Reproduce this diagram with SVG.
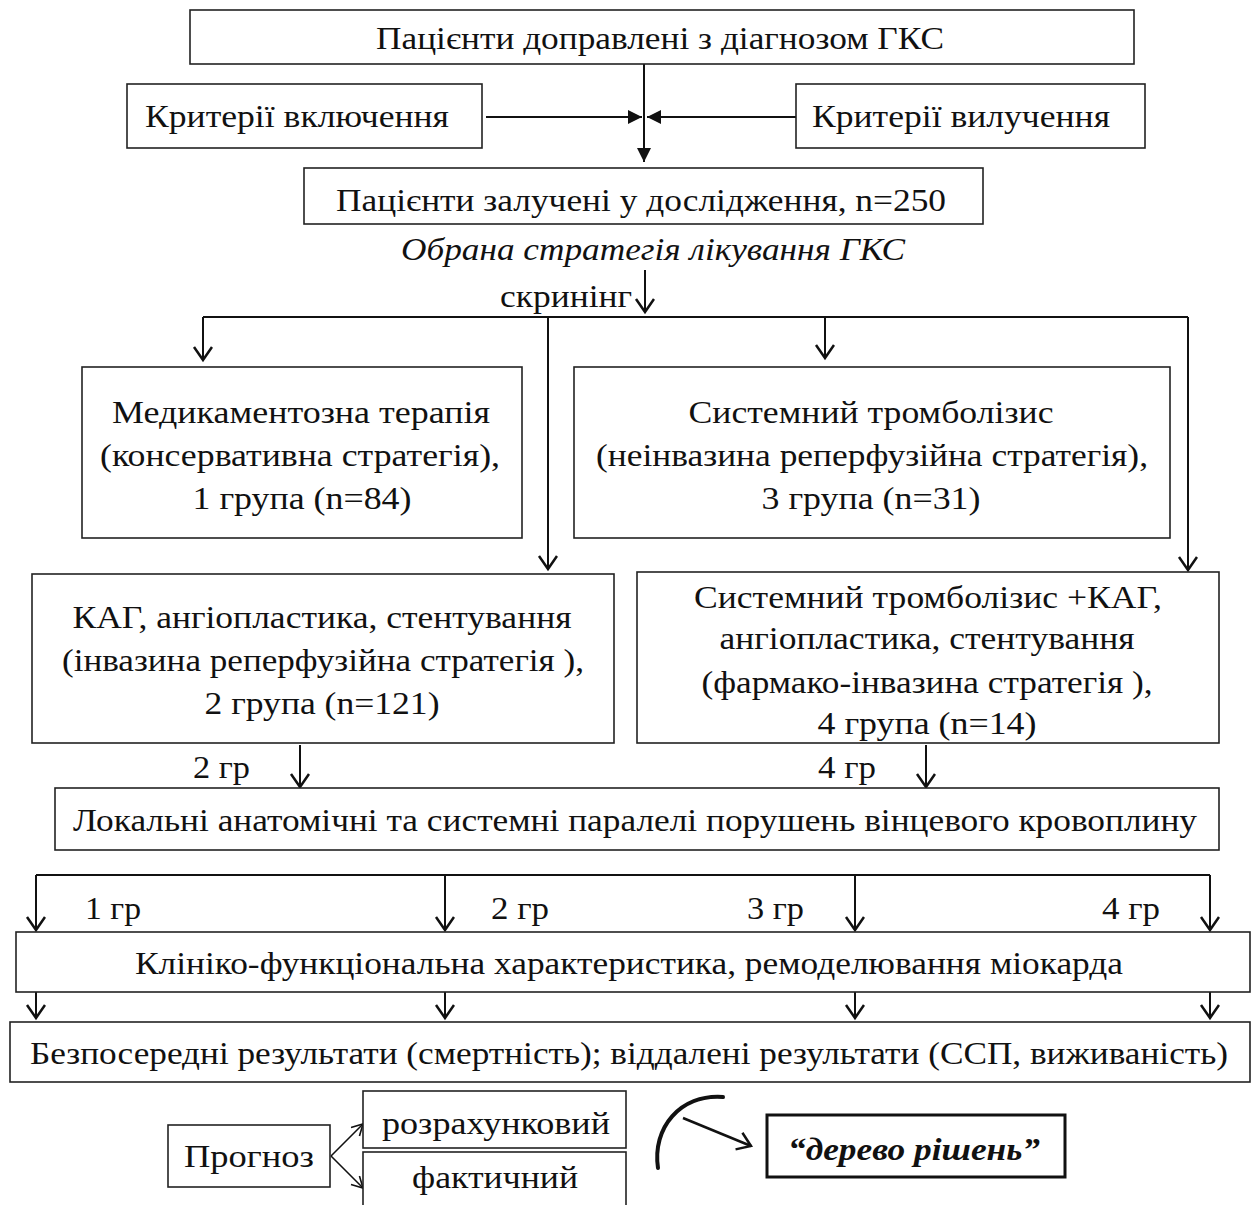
<svg xmlns="http://www.w3.org/2000/svg" width="1256" height="1205" viewBox="0 0 1256 1205">
<style>
.box{fill:#fff;stroke:#222;stroke-width:1.6}
.t{font-family:"Liberation Serif","Times New Roman",serif;font-size:32px;fill:#111;text-anchor:middle}
.l{font-family:"Liberation Serif","Times New Roman",serif;font-size:32px;fill:#111}
.c{stroke:#111;stroke-width:2;fill:none}
</style>
<defs>
<marker id="v" markerUnits="userSpaceOnUse" markerWidth="24" markerHeight="24" refX="15" refY="10" orient="auto">
<path d="M2,1 L15,10 L2,19" fill="none" stroke="#111" stroke-width="2.5"/>
</marker>
<marker id="vs" markerUnits="userSpaceOnUse" markerWidth="20" markerHeight="20" refX="12" refY="7" orient="auto">
<path d="M1,1 L12,7 L1,13" fill="none" stroke="#111" stroke-width="1.6"/>
</marker>
<marker id="f" markerUnits="userSpaceOnUse" markerWidth="20" markerHeight="20" refX="14" refY="7" orient="auto">
<path d="M0,0 L14,7 L0,14 Z" fill="#111"/>
</marker>
</defs>
<rect width="1256" height="1205" fill="#fff"/>

<g id="connectors">
<line class="c" x1="644" y1="64" x2="644" y2="162" marker-end="url(#f)"/>
<line class="c" x1="486" y1="117" x2="642" y2="117" marker-end="url(#f)"/>
<line class="c" x1="796" y1="117" x2="647" y2="117" marker-end="url(#f)"/>
<line class="c" x1="645" y1="270" x2="645" y2="312" marker-end="url(#v)"/>
<line class="c" x1="203" y1="317" x2="1188" y2="317"/>
<line class="c" x1="203" y1="317" x2="203" y2="360" marker-end="url(#v)"/>
<line class="c" x1="548" y1="318" x2="548" y2="569" marker-end="url(#v)"/>
<line class="c" x1="825" y1="317" x2="825" y2="358" marker-end="url(#v)"/>
<line class="c" x1="1188" y1="317" x2="1188" y2="570" marker-end="url(#v)"/>
<line class="c" x1="300" y1="745" x2="300" y2="787" marker-end="url(#v)"/>
<line class="c" x1="926" y1="745" x2="926" y2="787" marker-end="url(#v)"/>
<line class="c" x1="36" y1="875" x2="1210" y2="875"/>
<line class="c" x1="36" y1="875" x2="36" y2="930" marker-end="url(#v)"/>
<line class="c" x1="445" y1="875" x2="445" y2="930" marker-end="url(#v)"/>
<line class="c" x1="855" y1="875" x2="855" y2="930" marker-end="url(#v)"/>
<line class="c" x1="1210" y1="875" x2="1210" y2="930" marker-end="url(#v)"/>
<line class="c" x1="36" y1="992" x2="36" y2="1018" marker-end="url(#v)"/>
<line class="c" x1="445" y1="992" x2="445" y2="1018" marker-end="url(#v)"/>
<line class="c" x1="855" y1="992" x2="855" y2="1018" marker-end="url(#v)"/>
<line class="c" x1="1210" y1="992" x2="1210" y2="1018" marker-end="url(#v)"/>
<line class="c" x1="331" y1="1156" x2="363" y2="1124" style="stroke-width:1.6" marker-end="url(#vs)"/>
<line class="c" x1="331" y1="1156" x2="363" y2="1188" style="stroke-width:1.6" marker-end="url(#vs)"/>
<path class="c" d="M658,1168 C652,1128 680,1094 723,1097" style="stroke-width:4;stroke-linecap:round"/>
<line class="c" x1="683" y1="1118" x2="751" y2="1146" style="stroke-width:2.5" marker-end="url(#v)"/>
</g>

<g id="n-top"><rect class="box" x="190" y="10" width="944" height="54"/>
<text class="t" x="660" y="49" textLength="568" lengthAdjust="spacingAndGlyphs">Пацієнти доправлені з діагнозом ГКС</text></g>
<g id="n-incl"><rect class="box" x="127" y="84" width="355" height="64"/>
<text class="t" x="297" y="127" textLength="304" lengthAdjust="spacingAndGlyphs">Критерії включення</text></g>
<g id="n-excl"><rect class="box" x="796" y="84" width="349" height="64"/>
<text class="t" x="961" y="127" textLength="298" lengthAdjust="spacingAndGlyphs">Критерії вилучення</text></g>
<g id="n-incl2"><rect class="box" x="304" y="168" width="679" height="56"/>
<text class="t" x="641" y="211" textLength="610" lengthAdjust="spacingAndGlyphs">Пацієнти залучені у дослідження, n=250</text></g>
<g id="n-strategy"><text class="t" x="653" y="260" font-style="italic" textLength="504" lengthAdjust="spacingAndGlyphs">Обрана стратегія лікування ГКС</text>
<text class="l" x="500" y="307" textLength="132" lengthAdjust="spacingAndGlyphs">скринінг</text></g>

<g id="n-g1"><rect class="box" x="82" y="367" width="440" height="171"/>
<text class="t" x="301" y="423" textLength="378" lengthAdjust="spacingAndGlyphs">Медикаментозна терапія</text>
<text class="t" x="300" y="466" textLength="400" lengthAdjust="spacingAndGlyphs">(консервативна стратегія),</text>
<text class="t" x="302" y="509" textLength="219" lengthAdjust="spacingAndGlyphs">1 група (n=84)</text></g>
<g id="n-g3"><rect class="box" x="574" y="367" width="596" height="171"/>
<text class="t" x="871" y="423" textLength="365" lengthAdjust="spacingAndGlyphs">Системний тромболізис</text>
<text class="t" x="872" y="466" textLength="552" lengthAdjust="spacingAndGlyphs">(неінвазина реперфузійна стратегія),</text>
<text class="t" x="871" y="509" textLength="219" lengthAdjust="spacingAndGlyphs">3 група (n=31)</text></g>
<g id="n-g2"><rect class="box" x="32" y="574" width="582" height="169"/>
<text class="t" x="322" y="628" textLength="499" lengthAdjust="spacingAndGlyphs">КАГ, ангіопластика, стентування</text>
<text class="t" x="323" y="671" textLength="522" lengthAdjust="spacingAndGlyphs">(інвазина реперфузійна стратегія ),</text>
<text class="t" x="322" y="714" textLength="235" lengthAdjust="spacingAndGlyphs">2 група (n=121)</text></g>
<g id="n-g4"><rect class="box" x="637" y="572" width="582" height="171"/>
<text class="t" x="928" y="608" textLength="468" lengthAdjust="spacingAndGlyphs">Системний тромболізис +КАГ,</text>
<text class="t" x="927" y="649" textLength="415" lengthAdjust="spacingAndGlyphs">ангіопластика, стентування</text>
<text class="t" x="927" y="693" textLength="451" lengthAdjust="spacingAndGlyphs">(фармако-інвазина стратегія ),</text>
<text class="t" x="927" y="734" textLength="219" lengthAdjust="spacingAndGlyphs">4 група (n=14)</text></g>

<g id="labels1">
<text class="l" x="193" y="778" textLength="57" lengthAdjust="spacingAndGlyphs">2 гр</text>
<text class="l" x="818" y="778" textLength="58" lengthAdjust="spacingAndGlyphs">4 гр</text></g>

<g id="n-local"><rect class="box" x="55" y="788" width="1164" height="62"/>
<text class="t" x="635" y="831" textLength="1124" lengthAdjust="spacingAndGlyphs">Локальні анатомічні та системні паралелі порушень вінцевого кровоплину</text></g>

<g id="labels2">
<text class="l" x="85" y="919" textLength="56" lengthAdjust="spacingAndGlyphs">1 гр</text>
<text class="l" x="491" y="919" textLength="58" lengthAdjust="spacingAndGlyphs">2 гр</text>
<text class="l" x="747" y="919" textLength="57" lengthAdjust="spacingAndGlyphs">3 гр</text>
<text class="l" x="1102" y="919" textLength="58" lengthAdjust="spacingAndGlyphs">4 гр</text></g>

<g id="n-clinic"><rect class="box" x="16" y="932" width="1234" height="60"/>
<text class="t" x="629" y="974" textLength="988" lengthAdjust="spacingAndGlyphs">Клініко-функціональна характеристика, ремоделювання міокарда</text></g>
<g id="n-results"><rect class="box" x="10" y="1022" width="1240" height="60"/>
<text class="t" x="629" y="1064" textLength="1198" lengthAdjust="spacingAndGlyphs">Безпосередні результати (смертність); віддалені результати (ССП, виживаність)</text></g>

<g id="n-prognoz"><rect class="box" x="168" y="1125" width="162" height="62"/>
<text class="t" x="249" y="1167" textLength="130" lengthAdjust="spacingAndGlyphs">Прогноз</text></g>
<g id="n-calc"><rect class="box" x="363" y="1091" width="263" height="57"/>
<text class="t" x="496" y="1134" textLength="228" lengthAdjust="spacingAndGlyphs">розрахунковий</text></g>
<g id="n-fact"><rect class="box" x="363" y="1152" width="263" height="60"/>
<text class="t" x="495" y="1188" textLength="166" lengthAdjust="spacingAndGlyphs">фактичний</text></g>
<g id="n-tree"><rect x="767" y="1115" width="298" height="62" fill="#fff" stroke="#111" stroke-width="3"/>
<text class="t" x="914" y="1160" font-weight="bold" font-style="italic" textLength="252" lengthAdjust="spacingAndGlyphs">“дерево рішень”</text></g>
</svg>
